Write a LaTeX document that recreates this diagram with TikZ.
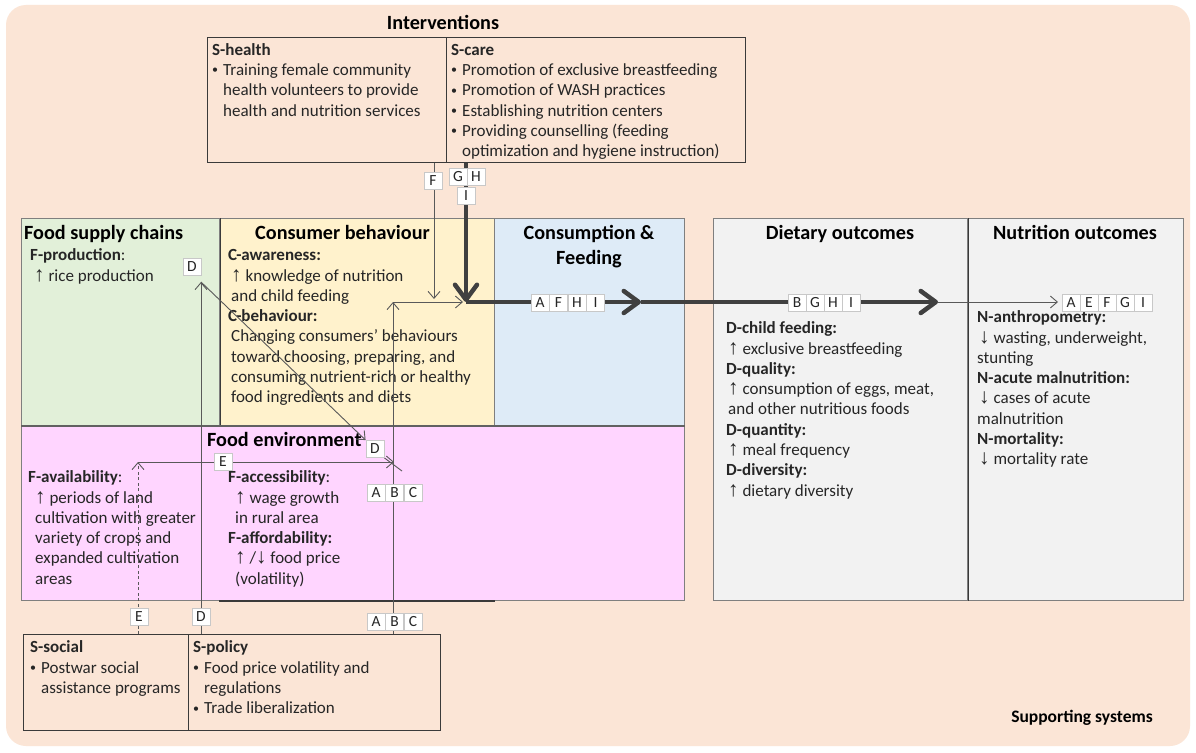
\documentclass[tikz,border=0pt]{standalone}
\usepackage{fontspec}
\setmainfont{Carlito}
\newfontfamily\arrowfont{Liberation Sans}
\usetikzlibrary{arrows.meta}

\definecolor{bgpeach}{HTML}{FBE5D6}
\definecolor{supgreen}{HTML}{E2F0D9}
\definecolor{conyellow}{HTML}{FFF2CC}
\definecolor{feedblue}{HTML}{DEEBF7}
\definecolor{envpink}{HTML}{FFD5FF}
\definecolor{outgray}{HTML}{F2F2F2}
\definecolor{edgegray}{HTML}{7F7F7F}
\definecolor{edgedark}{HTML}{3A3A3A}
\definecolor{linkgray}{HTML}{595959}
\definecolor{linkdark}{HTML}{404040}
\definecolor{tagedge}{HTML}{C8C8C8}

\newcommand\bodyfont{\fontsize{17}{20.3}\selectfont}
\newcommand\headfont{\fontsize{20.2}{24.4}\selectfont\bfseries}
\newcommand\arrup{{\arrowfont\fontsize{21}{20}\selectfont ↑}}
\newcommand\arrdn{{\arrowfont\fontsize{21}{20}\selectfont ↓}}
\newcommand\bulitem{\makebox[11pt][l]{\raisebox{1.6pt}{\fontsize{12}{12}\selectfont •}}}
\newcommand\bulind{\hspace*{11pt}}

\pgfdeclarelayer{tags}
\pgfsetlayers{main,tags}

\begin{document}
\begin{tikzpicture}[x=1pt,y=-1pt,
  box/.style={draw=edgegray, line width=1.2pt, anchor=north west, inner sep=0pt},
  sbox/.style={draw=edgedark, line width=1.3pt, anchor=north west, inner sep=0pt},
  txt/.style={anchor=north west, inner sep=0pt, align=left, font=\bodyfont, text=black!85},
  head/.style={anchor=base, inner sep=0pt, font=\headfont},
  tag/.style={draw=tagedge, fill=white, line width=0.8pt, minimum width=18pt,
              minimum height=17pt, inner sep=0pt, text=black!85,
              font=\fontsize{15.5}{18}\selectfont},
  link/.style={draw=linkgray, line width=0.9pt, -{Straight Barb[length=7pt,width=12pt]}},
  flow/.style={draw=linkdark, line width=4.5pt, -{Straight Barb[length=15pt,width=22pt,round]}},
]

% canvas
\useasboundingbox (0,0) rectangle (1196,752);
\fill[white] (0,0) rectangle (1196,752);
\fill[bgpeach, rounded corners=20pt] (6,5) rectangle (1190,746);

% boxes
\node[sbox, minimum width=239pt, minimum height=125pt] (shealth) at (207,37) {};
\node[sbox, minimum width=299pt, minimum height=125pt] (scare) at (446,37) {};
\node[box, fill=supgreen, minimum width=198pt, minimum height=208pt] (fsc) at (21,218) {};
\node[box, fill=conyellow, minimum width=275pt, minimum height=208pt] (cb) at (219,218) {};
\node[box, fill=feedblue, minimum width=190pt, minimum height=208pt] (cf) at (494,218) {};
\node[box, fill=envpink, minimum width=663pt, minimum height=174pt] (fenv) at (21,426) {};
\node[box, fill=outgray, minimum width=254pt, minimum height=382pt] (dout) at (713,218) {};
\node[box, fill=outgray, minimum width=216pt, minimum height=382pt] (nout) at (967,218) {};
\node[sbox, minimum width=165pt, minimum height=96pt] (ssocial) at (23,634) {};
\node[sbox, minimum width=252pt, minimum height=96pt] (spolicy) at (188,634) {};

% darker edges
\draw[edgedark, line width=1.3pt] (fsc.north east) -- (fsc.south east);
\draw[edgedark!80, line width=1.3pt] (fenv.north west) -- (fenv.north east);
\draw[edgedark, line width=1.3pt] (dout.north east) -- (dout.south east);
\draw[edgedark, line width=1.5pt] (cb.west |- fenv.south) -- (cb.east |- fenv.south);

% titles
\node[head] (tint) at (443,30) {Interventions};
\node[head, anchor=base west] (tfsc) at (24,239.5) {Food supply chains};
\node[head] (tcb) at (342.5,239.5) {Consumer behaviour};
\node[anchor=north, inner sep=0pt, align=center, font=\headfont] (tcf) at (589,222.4) {\strut Consumption \&\\Feeding};
\node[head] (tdout) at (840,239.5) {Dietary outcomes};
\node[head] (tnout) at (1075,239.5) {Nutrition outcomes};
\node[head, anchor=base west] (tfenv) at (207,446.5) {Food environment};
\node[anchor=base, inner sep=0pt, font=\fontsize{17.5}{21}\selectfont\bfseries] (tsup) at (1082,722) {Supporting systems};

% box contents
\node[txt] (xshealth) at (212,40.8) {\strut\textbf{S-health}\\
  \bulitem Training female community\\
  \bulind health volunteers to provide\\
  \bulind health and nutrition services};
\node[txt] (xscare) at (451,40.8) {\strut\textbf{S-care}\\
  \bulitem Promotion of exclusive breastfeeding\\
  \bulitem Promotion of WASH practices\\
  \bulitem Establishing nutrition centers\\
  \bulitem Providing counselling (feeding\\
  \bulind optimization and hygiene instruction)};
\node[txt] (xfsc) at (30,246.3) {\strut\textbf{F-production}:\\
  \hspace*{4pt}\arrup\ rice production};
\node[txt] (xcb) at (228,246.3) {\strut\textbf{C-awareness:}\\
  \hspace*{3pt}\arrup\ knowledge of nutrition\\
  \hspace*{3pt}and child feeding\\
  \textbf{C-behaviour:}\\
  \hspace*{3pt}Changing consumers' behaviours\\
  \hspace*{3pt}toward choosing, preparing, and\\
  \hspace*{3pt}consuming nutrient-rich or healthy\\
  \hspace*{3pt}food ingredients and diets};
\node[txt] (xavail) at (28,468.3) {\strut\textbf{F-availability}:\\
  \hspace*{7pt}\arrup\ periods of land\\
  \hspace*{7pt}cultivation with greater\\
  \hspace*{7pt}variety of crops and\\
  \hspace*{7pt}expanded cultivation\\
  \hspace*{7pt}areas};
\node[txt] (xaccess) at (228,468.3) {\strut\textbf{F-accessibility}:\\
  \hspace*{7pt}\arrup\ wage growth\\
  \hspace*{7pt}in rural area\\
  \textbf{F-affordability:}\\
  \hspace*{7pt}\arrup\ /\arrdn\ food price\\
  \hspace*{7pt}(volatility)};
\node[txt] (xdout) at (726,319.3) {\strut\textbf{D-child feeding:}\\
  \hspace*{2pt}\arrup\ exclusive breastfeeding\\
  \textbf{D-quality:}\\
  \hspace*{2pt}\arrup\ consumption of eggs, meat,\\
  \hspace*{2pt}and other nutritious foods\\
  \textbf{D-quantity:}\\
  \hspace*{2pt}\arrup\ meal frequency\\
  \textbf{D-diversity:}\\
  \hspace*{2pt}\arrup\ dietary diversity};
\node[txt] (xnout) at (977,308.3) {\strut\textbf{N-anthropometry:}\\
  \hspace*{2pt}\arrdn\ wasting, underweight,\\
  stunting\\
  \textbf{N-acute malnutrition:}\\
  \hspace*{2pt}\arrdn\ cases of acute\\
  malnutrition\\
  \textbf{N-mortality:}\\
  \hspace*{2pt}\arrdn\ mortality rate};
\node[txt] (xssocial) at (30,638.3) {\strut\textbf{S-social}\\
  \bulitem Postwar social\\
  \bulind assistance programs};
\node[txt] (xspolicy) at (193,638.3) {\strut\textbf{S-policy}\\
  \bulitem Food price volatility and\\
  \bulind regulations\\
  \bulitem Trade liberalization};

% pathway tags
\begin{pgfonlayer}{tags}
  \node[tag] (tF) at (433,181) {F};
  \node[tag] (tG) at (458,177) {G};
  \node[tag] (tH) at (476,177) {H};
  \node[tag] (tI) at (466,196) {I};
  \foreach \l [count=\i] in {A,F,H,I}
    \node[tag] (afhi\i) at ({521.5+18.5*\i},303) {\l};
  \foreach \l [count=\i] in {B,G,H,I}
    \node[tag] (bghi\i) at ({779+18*\i},303) {\l};
  \foreach \l [count=\i] in {A,E,F,G,I}
    \node[tag] (aefgi\i) at ({1053+18*\i},303) {\l};
  \foreach \l [count=\i] in {A,B,C}
    \node[tag] (abcm\i) at ({357.5+18.5*\i},493) {\l};
  \foreach \l [count=\i] in {A,B,C}
    \node[tag] (abcb\i) at ({357.5+18.5*\i},622) {\l};
  \node[tag] (tEb) at (139,617) {E};
  \node[tag] (tDb) at (201,617) {D};
  \node[tag] (tDtop) at (192,267) {D};
  \node[tag] (dmid) at (375,449) {D};
  \node[tag] (tEm) at (223,462) {E};
\end{pgfonlayer}

% connectors
\coordinate (fTip) at (434,299);
\coordinate (hub) at (466,302);
\coordinate (hubIn) at (463,302);
\coordinate (cfTip) at (641,302);
\coordinate (doTip) at (938,302);
\coordinate (noTip) at (1058,302);
\coordinate (abcTip) at (393,302);
\coordinate (dTip) at (201,282);
\coordinate (dext) at (402,471);
\coordinate (eTip) at (138,462);
\coordinate (eEnd) at (394,462);

\draw[link] (shealth.south -| fTip) -- (fTip);
\draw[link] (spolicy.north -| abcTip) -- (abcTip);
\draw[link] (abcTip) -- (hubIn);
\draw[link] (spolicy.north -| dTip) -- (dTip);
\draw[link] (dTip) -- (dmid.north west);
\draw[draw=linkgray, line width=0.9pt] (dmid.south east) -- (dext);
\draw[link, dash pattern=on 3pt off 2.5pt] (ssocial.north -| eTip) -- (eTip);
\draw[link] (eTip) -- (eEnd);

\draw[flow] (scare.south -| hub) -- (hub);
\draw[flow] (hub) -- (cfTip);
\draw[flow] (cfTip) -- (doTip);
\draw[link] (doTip) -- (noTip);

\end{tikzpicture}
\end{document}
